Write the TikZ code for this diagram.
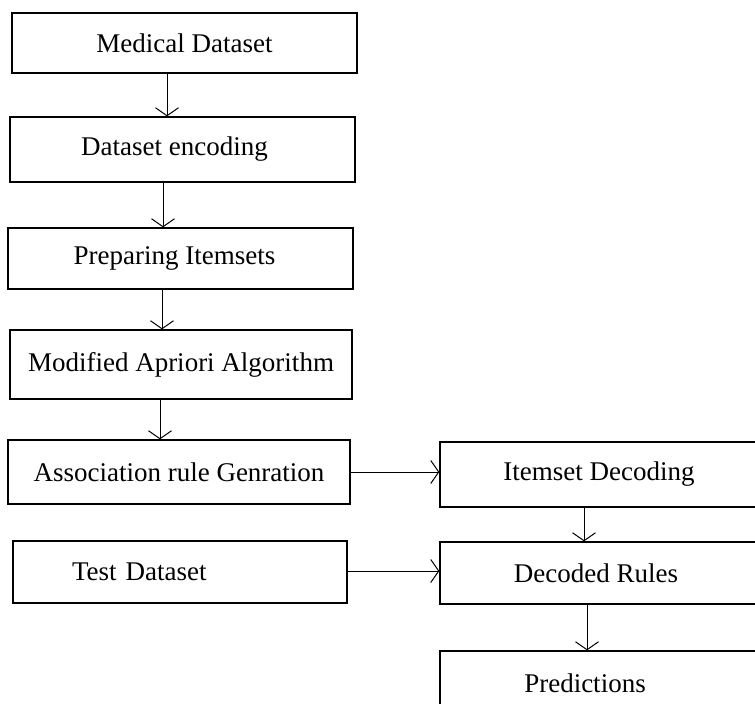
\documentclass[tikz,border=0pt]{standalone}
\usepackage{fontspec}
\setmainfont{Liberation Serif}
\usetikzlibrary{arrows.meta}
\begin{document}
\begin{tikzpicture}[x=1pt, y=-1pt,
    box/.style={draw, line width=1.3pt, inner sep=0pt, font=\fontsize{27}{31}\selectfont},
    flow/.style={line width=1pt, -{Straight Barb[length=8pt, width=23pt, line width=1pt]}}]
    % Fix the page and cut the boxes at the edge
    \useasboundingbox (0, 0) rectangle (755, 704);
    \clip (0, 0) rectangle (755, 704);
    \fill[white] (0, 0) rectangle (755, 704);

    % Draw the left column
    \node[box, minimum width=345pt, minimum height=60pt] (med) at (184.5, 43) {Medical Dataset};
    \node[box, minimum width=345pt, minimum height=65pt] (enc) at (182.5, 149.5) {\hspace*{-16pt}Dataset encoding};
    \node[box, minimum width=345pt, minimum height=61pt] (prep) at (180.5, 258.5) {\hspace*{-12pt}Preparing Itemsets};
    \node[box, minimum width=342pt, minimum height=69pt] (apr) at (181, 364.5) {Modified Apriori Algorithm};
    \node[box, minimum width=342pt, minimum height=64pt] (assoc) at (179, 472) {Association rule Genration};
    \node[box, text width=216pt, align=left, inner xsep=59pt, minimum height=62pt] (test) at (180, 572) {Test Dataset};

    % Draw the right column
    \node[box, minimum width=330pt, minimum height=65pt] (idec) at (605, 474.5) {\hspace*{-12pt}Itemset Decoding};
    \node[box, minimum width=330pt, minimum height=62pt] (rules) at (605, 573) {\hspace*{-18pt}Decoded Rules};
    \node[box, minimum width=330pt, minimum height=65pt] (pred) at (605, 683.5) {\hspace*{-40pt}Predictions};

    % Draw the arrows
    \draw[flow] ([xshift=-17.5pt]med.south) -- ([xshift=-17.5pt]med.south |- enc.north);
    \draw[flow] ([xshift=-19.5pt]enc.south) -- ([xshift=-19.5pt]enc.south |- prep.north);
    \draw[flow] ([xshift=-18.5pt]prep.south) -- ([xshift=-18.5pt]prep.south |- apr.north);
    \draw[flow] ([xshift=-21pt]apr.south) -- ([xshift=-21pt]apr.south |- assoc.north);
    \draw[flow] (assoc.east) -- (assoc.east -| idec.west);
    \draw[flow] ([yshift=1pt]test.east) -- ([yshift=1pt]test.east -| rules.west);
    \draw[flow] ([xshift=-21pt]idec.south) -- ([xshift=-21pt]idec.south |- rules.north);
    \draw[flow] ([xshift=-18pt]rules.south) -- ([xshift=-18pt]rules.south |- pred.north);
\end{tikzpicture}
\end{document}
